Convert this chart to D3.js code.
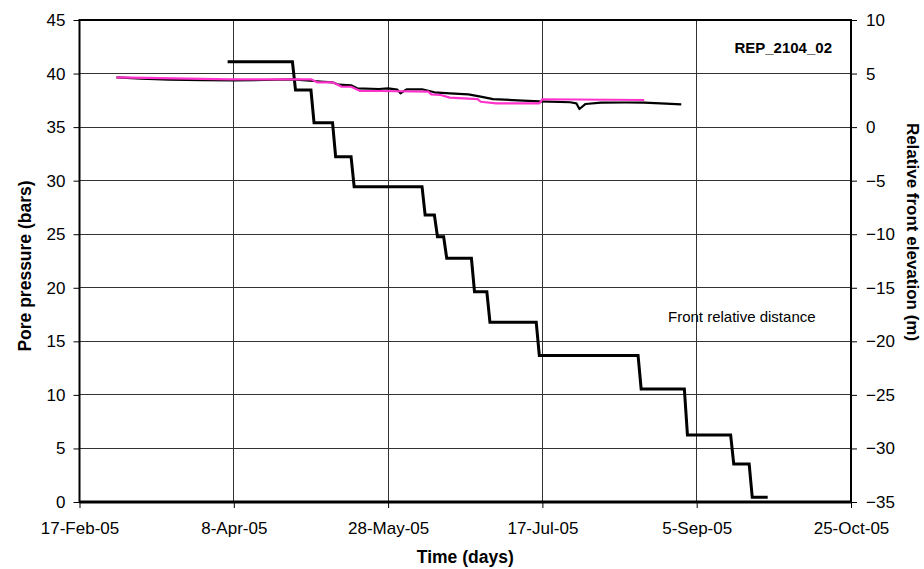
<!DOCTYPE html>
<html>
<head>
<meta charset="utf-8">
<script src="https://cdn.jsdelivr.net/npm/d3@7"></script>
<style>
  body { margin: 0; background: #fff; }
  svg { display: block; font-family: Arial, "Liberation Sans", sans-serif; }
</style>
</head>
<body>
<div id="chart-container"></div>
<script>
// Days counted from 17-Feb-05
const startDate = new Date(2005, 1, 17);
const tickDays = [0, 50, 100, 150, 200, 250];
const leftTicks = [0, 5, 10, 15, 20, 25, 30, 35, 40, 45];
const rightTicks = [-35, -30, -25, -20, -15, -10, -5, 0, 5, 10];

// Pore pressure, black sensor (bars)
const blackDay = [12, 20, 29, 40, 50, 60, 69, 78, 82, 84.5, 88.7, 90.3, 97.4, 100.7, 103.5, 104.5, 106.1, 111.4, 115.3, 120, 126.6, 130, 134.1, 142, 149.9, 159, 161.6, 162.8, 164.4, 169.7, 177, 183.9, 190, 195.6];
const blackVal = [39.65, 39.52, 39.42, 39.38, 39.36, 39.4, 39.46, 39.26, 39.18, 38.96, 38.9, 38.62, 38.56, 38.62, 38.5, 38.16, 38.53, 38.53, 38.25, 38.15, 38.06, 37.85, 37.62, 37.5, 37.41, 37.32, 37.22, 36.69, 37.16, 37.28, 37.3, 37.28, 37.2, 37.13];

// Pore pressure, magenta sensor (bars)
const pinkDay = [12, 26.2, 49.8, 75.7, 77.4, 82.2, 85, 88.7, 91, 97.4, 113, 114.2, 117.4, 120.7, 129.2, 130.4, 135.3, 149.9, 150.9, 183.3];
const pinkVal = [39.65, 39.58, 39.46, 39.46, 39.18, 39.18, 38.77, 38.77, 38.37, 38.37, 38.31, 38.06, 38.0, 37.75, 37.62, 37.37, 37.22, 37.22, 37.6, 37.53];

// Front relative distance (m)
const frontDay = [48, 69.3, 70, 75, 76, 82, 83, 88, 89, 111, 112, 115, 116, 118, 119, 127, 128, 132, 133, 148, 149, 181, 182, 196, 197, 211, 212, 217, 218, 223.5];
const frontVal = [6.1, 6.1, 3.46, 3.46, 0.41, 0.41, -2.76, -2.76, -5.56, -5.56, -8.2, -8.2, -10.23, -10.23, -12.25, -12.25, -15.37, -15.37, -18.22, -18.22, -21.32, -21.32, -24.45, -24.45, -28.74, -28.74, -31.45, -31.45, -34.56, -34.56];

function init() {
  const W = 924, H = 569;
  const plot = { left: 79.5, right: 851, top: 20, bottom: 502 };
  const toDate = d => d3.timeDay.offset(startDate, d);

  const svg = d3.select("#chart-container")
    .append("svg")
      .attr("width", W)
      .attr("height", H);

  const x = d3.scaleTime()
    .domain([toDate(0), toDate(250)])
    .range([plot.left, plot.right]);

  const yL = d3.scaleLinear().domain([0, 45]).range([plot.bottom, plot.top]);
  const yR = d3.scaleLinear().domain([-35, 10]).range([plot.bottom, plot.top]);

  // Gridlines
  svg.append("g")
    .attr("shape-rendering", "crispEdges")
    .selectAll("line")
    .data(leftTicks)
    .join("line")
      .attr("x1", plot.left).attr("x2", plot.right)
      .attr("y1", d => yL(d)).attr("y2", d => yL(d))
      .attr("stroke", "#333").attr("stroke-width", 1);

  svg.append("g")
    .attr("shape-rendering", "crispEdges")
    .selectAll("line")
    .data(tickDays)
    .join("line")
      .attr("x1", d => x(toDate(d))).attr("x2", d => x(toDate(d)))
      .attr("y1", plot.top).attr("y2", plot.bottom)
      .attr("stroke", "#333").attr("stroke-width", 1);

  // Plot frame
  svg.append("rect")
    .attr("x", plot.left).attr("y", plot.top)
    .attr("width", plot.right - plot.left)
    .attr("height", plot.bottom - plot.top)
    .attr("fill", "none")
    .attr("stroke", "#000")
    .attr("stroke-width", 2);

  // Axes
  const fontSize = 17;
  const xAxis = svg.append("g")
    .attr("transform", `translate(0,${plot.bottom})`)
    .call(d3.axisBottom(x)
      .tickValues(tickDays.map(toDate))
      .tickFormat(d3.timeFormat("%-d-%b-%y"))
      .tickSize(6).tickPadding(14));

  const leftAxis = svg.append("g")
    .attr("transform", `translate(${plot.left},0)`)
    .call(d3.axisLeft(yL).tickValues(leftTicks).tickSize(6).tickPadding(8));

  const rightAxis = svg.append("g")
    .attr("transform", `translate(${plot.right},0)`)
    .call(d3.axisRight(yR).tickValues(rightTicks).tickSize(6).tickPadding(9));

  [xAxis, leftAxis, rightAxis].forEach(g => {
    g.select(".domain").remove();
    g.selectAll(".tick line").attr("stroke", "#000");
    g.selectAll("text")
      .attr("font-family", "Arial, 'Liberation Sans', sans-serif")
      .attr("font-size", fontSize)
      .attr("fill", "#000");
  });

  // Thick bottom axis line
  svg.append("line")
    .attr("x1", plot.left).attr("x2", plot.right)
    .attr("y1", plot.bottom).attr("y2", plot.bottom)
    .attr("stroke", "#000").attr("stroke-width", 3);

  // Series
  const lineL = d3.line()
    .x(d => x(toDate(d[0])))
    .y(d => yL(d[1]));

  const lineR = d3.line()
    .x(d => x(toDate(d[0])))
    .y(d => yR(d[1]));

  svg.append("path")
    .datum(d3.zip(frontDay, frontVal))
    .attr("d", lineR)
    .attr("fill", "none")
    .attr("stroke", "#000")
    .attr("stroke-width", 3)
    .attr("stroke-linejoin", "miter");

  svg.append("path")
    .datum(d3.zip(blackDay, blackVal))
    .attr("d", lineL)
    .attr("fill", "none")
    .attr("stroke", "#000")
    .attr("stroke-width", 2.2)
    .attr("stroke-linejoin", "round");

  svg.append("path")
    .datum(d3.zip(pinkDay, pinkVal))
    .attr("d", lineL)
    .attr("fill", "none")
    .attr("stroke", "#ff33cc")
    .attr("stroke-width", 2.2)
    .attr("stroke-linejoin", "round");

  // Labels
  svg.append("text")
    .attr("x", 832).attr("y", 53)
    .attr("text-anchor", "end")
    .attr("font-size", 15)
    .attr("font-weight", "bold")
    .text("REP_2104_02");

  svg.append("text")
    .attr("x", 668).attr("y", 322)
    .attr("font-size", 15)
    .text("Front relative distance");

  svg.append("text")
    .attr("x", (plot.left + plot.right) / 2).attr("y", 563)
    .attr("text-anchor", "middle")
    .attr("font-size", 17.5)
    .attr("font-weight", "bold")
    .text("Time (days)");

  svg.append("text")
    .attr("transform", "translate(31,266) rotate(-90)")
    .attr("text-anchor", "middle")
    .attr("font-size", 17.5)
    .attr("font-weight", "bold")
    .text("Pore pressure (bars)");

  svg.append("text")
    .attr("transform", "translate(907,232) rotate(90)")
    .attr("text-anchor", "middle")
    .attr("font-size", 17)
    .attr("font-weight", "bold")
    .text("Relative front elevation (m)");
}

window.onload = init;
</script>
</body>
</html>
